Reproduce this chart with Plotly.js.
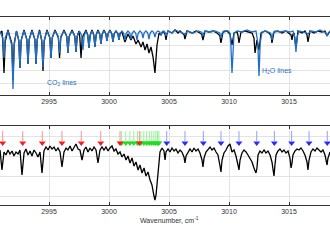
<!DOCTYPE html>
<html>
<head>
<meta charset="utf-8">
<script src="https://cdn.plot.ly/plotly-3.0.1.min.js"></script>
<style>html,body{margin:0;padding:0;background:#fff}#chart{width:330px;height:250px}</style>
</head>
<body>
<div id="chart"></div>
<script>
// ---- Top panel: measured (black) and model (blue) spectra ----
const topMeasWn = [2990.92,2991.08,2991.15,2991.25,2991.35,2991.58,2991.9,2992.0,2992.1,2992.29,2992.48,2992.58,2992.68,2992.92,2993.15,2993.25,2993.35,2993.58,2993.82,2993.92,2994.02,2994.21,2994.4,2994.5,2994.6,2994.83,2995.07,2995.17,2995.27,2995.5,2995.78,2995.88,2995.98,2996.25,2996.48,2996.58,2996.68,2996.92,2997.15,2997.25,2997.35,2997.5,2997.57,2997.67,2997.77,2998.08,2998.23,2998.33,2998.43,2998.58,2998.73,2998.83,2998.93,2999.08,2999.23,2999.33,2999.43,2999.58,2999.73,2999.83,2999.93,3000.08,3000.23,3000.33,3000.43,3000.58,3000.73,3000.83,3000.93,3001.08,3001.33,3001.58,3001.83,3002.0,3002.25,3002.42,3002.67,3002.83,3003.0,3003.17,3003.33,3003.5,3003.67,3003.83,3004.0,3004.17,3004.33,3004.5,3004.67,3004.75,3004.83,3004.92,3005.25,3005.5,3005.75,3005.92,3006.17,3006.25,3006.33,3006.42,3006.5,3006.92,3007.25,3007.58,3007.73,3007.83,3007.93,3008.0,3008.33,3008.67,3009.0,3009.23,3009.33,3009.43,3009.5,3009.83,3010.08,3010.25,3010.42,3010.67,3010.75,3010.83,3010.92,3011.0,3011.33,3011.67,3011.92,3012.08,3012.17,3012.33,3012.5,3012.67,3013.0,3013.33,3013.5,3013.58,3013.67,3013.75,3014.08,3014.42,3014.75,3015.0,3015.17,3015.25,3015.33,3015.42,3015.58,3015.75,3016.08,3016.33,3016.5,3016.58,3016.67,3016.75,3017.08,3017.42,3017.75,3018.0,3018.17,3018.42];
const topMeasT = [1.0,1.016,0.932,0.68,0.932,1.024,0.918,0.624,0.918,1.016,0.942,0.72,0.942,1.024,0.95,0.752,0.95,1.024,0.95,0.752,0.95,1.024,0.936,0.696,0.936,1.024,0.962,0.8,0.962,1.024,0.962,0.8,0.962,1.024,0.972,0.84,0.972,1.024,0.974,0.848,0.974,1.016,0.962,0.8,0.962,1.024,0.982,0.88,0.982,1.024,0.984,0.888,0.984,1.024,0.99,0.912,0.99,1.024,0.996,0.936,0.996,1.024,0.994,0.928,0.994,1.016,0.998,0.944,0.998,1.008,0.928,0.992,0.944,0.976,0.912,0.944,0.888,0.928,0.864,0.912,0.84,0.888,0.808,0.68,0.904,1.0,0.984,1.016,0.99,0.944,0.99,1.016,1.0,1.024,1.0,1.016,0.992,0.99,0.952,0.99,1.016,1.0,1.016,1.0,0.99,0.944,0.99,1.016,1.008,1.016,1.0,0.98,0.92,0.98,1.008,1.016,0.992,0.904,1.0,1.008,0.98,0.92,0.98,1.008,1.016,1.008,1.0,0.96,0.84,0.944,0.864,1.0,1.016,1.0,0.98,0.92,0.98,1.008,1.016,1.0,1.016,1.0,0.985,0.944,0.99,1.0,0.88,1.016,1.0,1.016,0.985,0.928,0.985,1.016,1.0,1.016,1.008,1.016,0.976,1.016];

const topModelWn = [2990.92,2991.15,2991.25,2991.35,2991.58,2991.9,2992.0,2992.1,2992.29,2992.48,2992.58,2992.68,2992.92,2993.15,2993.25,2993.35,2993.58,2993.82,2993.92,2994.02,2994.21,2994.4,2994.5,2994.6,2994.83,2995.07,2995.17,2995.27,2995.5,2995.78,2995.88,2995.98,2996.25,2996.48,2996.58,2996.68,2996.92,2997.15,2997.25,2997.35,2997.54,2997.73,2997.83,2997.93,2998.08,2998.23,2998.33,2998.43,2998.58,2998.73,2998.83,2998.93,2999.08,2999.23,2999.33,2999.43,2999.58,2999.73,2999.83,2999.93,3000.08,3000.23,3000.33,3000.43,3000.58,3000.73,3000.83,3000.93,3001.08,3001.23,3001.33,3001.43,3001.58,3001.73,3001.83,3001.93,3002.08,3002.23,3002.33,3002.43,3002.58,3002.73,3002.83,3002.93,3003.08,3003.23,3003.33,3003.43,3003.58,3003.73,3003.83,3003.93,3004.08,3004.23,3004.33,3004.43,3004.58,3004.67,3004.75,3004.83,3004.92,3005.25,3005.5,3005.92,3006.33,3006.58,3007.0,3007.42,3007.73,3007.83,3007.93,3008.08,3008.42,3008.83,3009.23,3009.33,3009.43,3009.58,3009.92,3010.08,3010.15,3010.25,3010.35,3010.42,3010.67,3011.08,3011.5,3011.92,3012.25,3012.4,3012.5,3012.6,3012.75,3013.08,3013.48,3013.58,3013.68,3013.83,3014.25,3014.67,3015.08,3015.33,3015.48,3015.58,3015.68,3015.83,3016.25,3016.58,3016.83,3017.25,3017.58,3017.92,3018.07,3018.17,3018.27,3018.42];
const topModelT = [1.008,0.962,0.8,0.962,1.016,0.9,0.552,0.9,1.016,0.942,0.72,0.942,1.016,0.95,0.752,0.95,1.016,0.95,0.752,0.95,1.016,0.944,0.728,0.944,1.016,0.962,0.8,0.962,1.016,0.972,0.84,0.972,1.016,0.972,0.84,0.972,1.016,0.974,0.848,0.974,1.016,0.978,0.864,0.978,1.016,0.982,0.88,0.982,1.016,0.984,0.888,0.984,1.016,0.99,0.912,0.99,1.016,0.996,0.936,0.996,1.016,0.994,0.928,0.994,1.016,0.998,0.944,0.998,1.016,0.998,0.944,0.998,1.016,1.0,0.952,1.0,1.016,0.998,0.944,0.998,1.016,1.002,0.96,1.002,1.016,1.0,0.952,1.0,1.016,1.004,0.968,1.004,1.016,1.008,0.984,1.008,1.016,1.006,0.976,1.006,1.016,1.0,1.024,1.008,0.992,1.016,1.0,1.016,1.006,0.976,1.006,1.016,1.008,1.016,1.0,0.96,1.0,1.016,1.016,1.0,0.92,0.68,0.92,1.0,1.016,1.008,1.024,1.008,1.016,0.92,0.656,0.92,1.008,1.016,0.998,0.944,0.998,1.016,1.008,1.016,1.008,1.016,0.97,0.848,0.97,1.016,1.008,0.992,1.016,1.008,1.024,1.008,1.0,0.976,1.0,1.016];

// ---- Bottom panel: corrected spectrum ----
const botWn = [2990.92,2991.08,2991.25,2991.42,2991.58,2991.75,2991.92,2992.08,2992.25,2992.42,2992.58,2992.75,2992.92,2993.08,2993.25,2993.42,2993.58,2993.75,2993.92,2994.08,2994.25,2994.42,2994.58,2994.75,2994.92,2995.08,2995.25,2995.42,2995.58,2995.75,2995.92,2996.08,2996.25,2996.42,2996.58,2996.75,2996.92,2997.08,2997.25,2997.42,2997.58,2997.75,2997.92,2998.08,2998.25,2998.42,2998.58,2998.75,2998.92,2999.08,2999.25,2999.42,2999.58,2999.75,2999.92,3000.08,3000.25,3000.42,3000.58,3000.75,3000.92,3001.08,3001.25,3001.42,3001.58,3001.75,3001.92,3002.08,3002.25,3002.42,3002.58,3002.75,3002.92,3003.08,3003.25,3003.42,3003.58,3003.75,3003.83,3003.92,3004.08,3004.25,3004.42,3004.58,3004.67,3004.75,3004.92,3005.08,3005.25,3005.42,3005.58,3005.75,3005.92,3006.08,3006.25,3006.33,3006.42,3006.58,3006.75,3006.92,3007.08,3007.25,3007.42,3007.58,3007.75,3007.83,3007.92,3008.08,3008.25,3008.42,3008.58,3008.75,3008.92,3009.08,3009.25,3009.33,3009.42,3009.58,3009.75,3009.92,3010.08,3010.25,3010.42,3010.58,3010.75,3010.83,3010.92,3011.08,3011.25,3011.42,3011.58,3011.75,3011.92,3012.08,3012.25,3012.33,3012.42,3012.58,3012.75,3012.92,3013.08,3013.25,3013.42,3013.58,3013.67,3013.75,3013.83,3013.92,3014.08,3014.25,3014.42,3014.58,3014.75,3014.92,3015.08,3015.17,3015.25,3015.33,3015.5,3015.67,3015.83,3016.0,3016.17,3016.33,3016.5,3016.58,3016.67,3016.83,3017.0,3017.17,3017.33,3017.5,3017.67,3017.83,3018.0,3018.17,3018.25,3018.42];
const botT = [1.03,0.93,1.02,1.005,1.03,1.01,1.025,1.0,1.02,1.01,1.03,0.905,1.015,1.035,1.005,1.025,1.0,1.03,1.015,0.995,1.02,0.915,1.025,1.045,1.03,1.05,1.035,1.045,1.025,1.04,1.02,0.945,1.02,1.04,1.03,1.05,1.025,1.04,1.06,1.035,1.03,0.98,1.03,1.045,1.02,1.04,1.025,1.045,1.03,0.965,1.03,1.045,1.03,1.045,1.025,1.04,1.05,1.025,1.035,1.01,1.02,0.995,1.01,0.98,1.0,0.965,0.99,0.95,0.97,0.93,0.955,0.915,0.94,0.9,0.92,0.88,0.855,0.8,0.78,0.805,0.905,1.02,1.04,1.025,0.98,1.02,1.035,1.02,1.04,1.025,1.035,1.015,1.03,1.02,0.995,0.965,1.0,1.02,1.035,1.02,1.04,1.025,1.035,1.015,0.98,0.945,0.99,1.02,1.035,1.045,1.03,1.04,1.02,1.005,0.95,0.92,0.98,1.015,1.03,1.05,1.06,1.02,1.03,1.0,0.955,0.93,0.98,1.015,1.03,1.02,1.005,0.99,0.97,0.94,0.915,0.94,1.005,1.025,1.015,1.03,1.015,1.025,1.005,0.97,0.93,0.9,0.955,1.005,1.025,1.035,1.02,1.03,1.015,1.025,0.99,0.94,0.965,1.005,1.025,1.035,1.03,1.04,1.025,1.005,0.97,0.93,0.98,1.02,1.035,1.025,1.04,1.03,1.02,1.03,1.005,0.955,0.99,1.02];

// ---- Line assignment markers (wavenumbers) ----
const redLines = [2991.14,2992.81,2994.44,2996.08,2997.69,2999.31,3000.92,3002.53];
const greenLines = [3001.05,3001.4,3001.74,3002.06,3002.37,3002.65,3002.9,3003.14,3003.36,3003.56,3003.74,3003.9,3004.04,3004.16];
const blueLines = [3004.81,3006.33,3007.86,3009.33,3010.83,3012.31,3013.78,3015.22,3016.67,3018.19];

const xTicks = [2995,3000,3005,3010,3015];
const labels = {co2: 'CO<sub>2</sub> lines', h2o: 'H<sub>2</sub>O lines', xTitle: 'Wavenumber, cm<sup>-1</sup>'};

// arrow geometry (bottom axis units)
const ARROW_TOP = 1.125, ARROW_END = 1.075, HEAD_Y = 1.065;

function arrowTraces(list, lineColor, headColor) {
  const lx = [], ly = [];
  list.forEach(w => { lx.push(w, w, null); ly.push(ARROW_TOP, ARROW_END, null); });
  return [
    {x: lx, y: ly, xaxis: 'x2', yaxis: 'y2', mode: 'lines', line: {color: lineColor, width: 1}, hoverinfo: 'skip'},
    {x: list, y: list.map(() => HEAD_Y), xaxis: 'x2', yaxis: 'y2', mode: 'markers',
     marker: {symbol: 'triangle-down', size: 6, color: headColor, line: {width: 0}}, hoverinfo: 'skip'}
  ];
}

const BLUE = '#1f6fc5';
const FONT = 'Liberation Sans, Arial, sans-serif';
const traces = [
  {x: topMeasWn, y: topMeasT, mode: 'lines', line: {color: '#000', width: 1.3}, xaxis: 'x', yaxis: 'y'},
  {x: topModelWn, y: topModelT, mode: 'lines', line: {color: BLUE, width: 1.3}, xaxis: 'x', yaxis: 'y'},
  {x: botWn, y: botT, mode: 'lines', line: {color: '#000', width: 1.3}, xaxis: 'x2', yaxis: 'y2'},
  ...arrowTraces(greenLines, '#9af09a', '#22dd22'),
  ...arrowTraces(redLines, '#ff9090', '#ff1a1a'),
  ...arrowTraces(blueLines, '#9a9aff', '#2a2aff')
];

const xr = [2990.917, 3018.417];
const axX = {
  range: xr, tickvals: xTicks, ticks: 'inside', ticklen: 3, tickcolor: '#333',
  showline: true, mirror: 'ticks', linecolor: '#333', linewidth: 1,
  showgrid: true, gridcolor: '#e3e3e3', gridwidth: 1, zeroline: false,
  tickfont: {family: FONT, size: 7, color: '#333'},
  automargin: false, fixedrange: true
};
const layout = {
  width: 330, height: 250,
  margin: {l: 0, r: 0, t: 0, b: 0},
  paper_bgcolor: '#fff', plot_bgcolor: '#fff',
  showlegend: false,
  xaxis: Object.assign({}, axX, {anchor: 'y', domain: [0, 1]}),
  yaxis: {domain: [0.62, 0.932], range: [0.504, 1.128], tickvals: [0.6, 0.7, 0.8, 0.9, 1.0],
          showticklabels: false, ticks: '', showline: false, showgrid: true, gridcolor: '#e3e3e3',
          zeroline: false, automargin: false, anchor: 'x'},
  xaxis2: Object.assign({}, axX, {anchor: 'y2', domain: [0, 1]}),
  yaxis2: {domain: [0.18, 0.496], range: [0.755, 1.15], tickvals: [0.8, 0.9, 1.0, 1.1],
           showticklabels: false, ticks: '', showline: false, showgrid: true, gridcolor: '#e3e3e3',
           zeroline: false, automargin: false, anchor: 'x2'},
  annotations: [
    {text: labels.co2, x: 2996.08, y: 0.6, xref: 'x', yref: 'y', showarrow: false,
     xanchor: 'center', yanchor: 'middle', font: {family: FONT, size: 7, color: BLUE}},
    {text: labels.h2o, x: 3014.0, y: 0.696, xref: 'x', yref: 'y', showarrow: false,
     xanchor: 'center', yanchor: 'middle', font: {family: FONT, size: 7, color: BLUE}},
    {text: labels.xTitle, x: 0.515, y: 0.122, xref: 'paper', yref: 'paper', showarrow: false,
     xanchor: 'center', yanchor: 'middle', font: {family: FONT, size: 7, color: '#333'}}
  ]
};

Plotly.newPlot('chart', traces, layout, {staticPlot: true, displayModeBar: false});
</script>
</body>
</html>
